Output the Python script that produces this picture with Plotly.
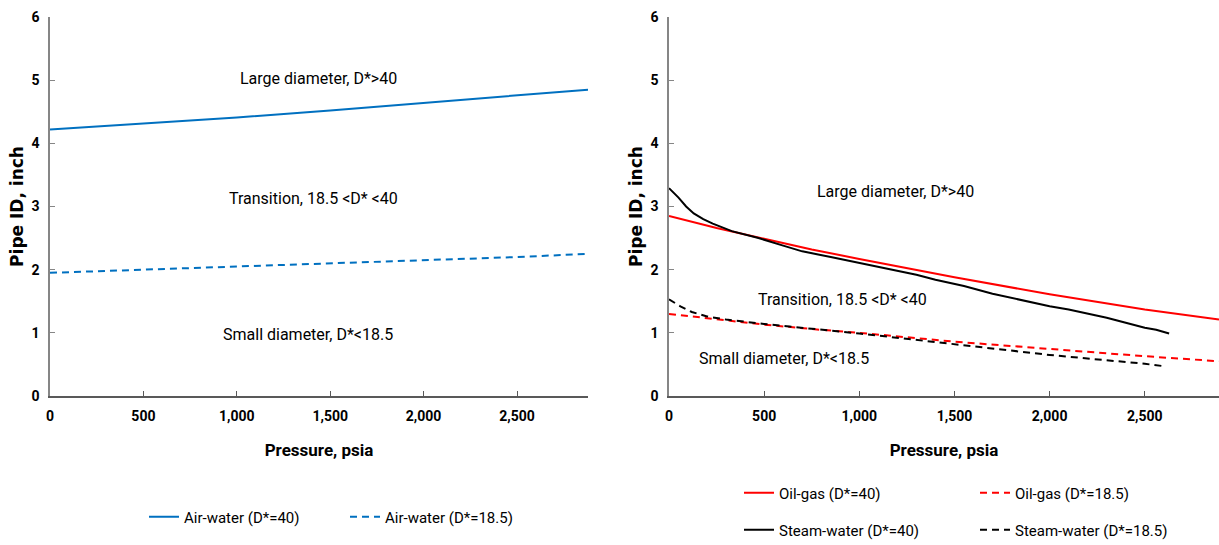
import plotly.graph_objects as go

# ---------------- data ----------------
air_pressure = [0, 500, 1000, 1500, 2000, 2500, 2880]
air_d40 = [4.22, 4.31, 4.41, 4.52, 4.64, 4.76, 4.85]
air_d185 = [1.95, 2.00, 2.04, 2.09, 2.14, 2.20, 2.25]

oil_pressure = [0, 250, 500, 750, 1000, 1500, 2000, 2500, 2890]
oil_d40 = [2.85, 2.66, 2.49, 2.32, 2.17, 1.88, 1.61, 1.37, 1.21]
oil_d185 = [1.30, 1.21, 1.13, 1.06, 1.00, 0.86, 0.74, 0.63, 0.55]

steam_pressure40 = [0, 25, 50, 90, 130, 180, 230, 330, 470, 600, 700, 850, 1000, 1100, 1200, 1300,
                    1400, 1550, 1700, 1850, 2000, 2100, 2200, 2300, 2360, 2430, 2500, 2560, 2628]
steam_d40 = [3.29, 3.22, 3.14, 3.00, 2.89, 2.80, 2.73, 2.61, 2.50, 2.38, 2.29, 2.20, 2.11, 2.05, 1.99, 1.92,
             1.84, 1.74, 1.62, 1.52, 1.42, 1.37, 1.31, 1.24, 1.19, 1.13, 1.08, 1.05, 0.99]
steam_pressure185 = [0, 60, 120, 200, 300, 500, 1000, 1500, 2000, 2500, 2605]
steam_d185 = [1.53, 1.42, 1.33, 1.26, 1.21, 1.14, 0.99, 0.82, 0.65, 0.51, 0.47]

x_ticks = [0, 500, 1000, 1500, 2000, 2500]
x_tick_labels = ["0", "500", "1,000", "1,500", "2,000", "2,500"]
y_ticks = [0, 1, 2, 3, 4, 5, 6]

region_labels = ["Large diameter, D*>40", "Transition, 18.5 <D* <40", "Small diameter, D*<18.5"]
left_label_pos = [(1435, 5.02), (1409, 3.13), (1382, 0.97)]
right_label_pos = [(1188, 3.23), (914, 1.53), (604, 0.60)]

BLUE = "#0070C0"
RED = "#FF0000"
BLACK = "#000000"
FONT = "Roboto, sans-serif"
DASH = "7px,5px"

fig = go.Figure()

fig.add_trace(go.Scatter(x=air_pressure, y=air_d40, mode="lines", name="Air-water (D*=40)",
                         line=dict(color=BLUE, width=2), xaxis="x", yaxis="y", legend="legend"))
fig.add_trace(go.Scatter(x=air_pressure, y=air_d185, mode="lines", name="Air-water (D*=18.5)",
                         line=dict(color=BLUE, width=2, dash=DASH), xaxis="x", yaxis="y", legend="legend"))

fig.add_trace(go.Scatter(x=oil_pressure, y=oil_d40, mode="lines", name="Oil-gas (D*=40)",
                         line=dict(color=RED, width=2), xaxis="x2", yaxis="y2", legend="legend2"))
fig.add_trace(go.Scatter(x=oil_pressure, y=oil_d185, mode="lines", name="Oil-gas (D*=18.5)",
                         line=dict(color=RED, width=2, dash=DASH), xaxis="x2", yaxis="y2", legend="legend2"))
fig.add_trace(go.Scatter(x=steam_pressure40, y=steam_d40, mode="lines", name="Steam-water (D*=40)",
                         line=dict(color=BLACK, width=2), xaxis="x2", yaxis="y2", legend="legend3"))
fig.add_trace(go.Scatter(x=steam_pressure185, y=steam_d185, mode="lines", name="Steam-water (D*=18.5)",
                         line=dict(color=BLACK, width=2, dash=DASH), xaxis="x2", yaxis="y2", legend="legend3"))

tick_font = dict(family=FONT, size=14, color="#000000", weight="bold")
xtitle_font = dict(family=FONT, size=17, color="#000000", weight="bold")
ytitle_font = dict(family="DejaVu Sans", size=17, color="#000000", weight="bold")

def xaxis(domain, rng, anchor):
    return dict(domain=domain, range=rng, anchor=anchor, tickvals=x_ticks, ticktext=x_tick_labels,
                ticks="inside", ticklen=5, tickcolor="#595959", showline=True, linecolor="#595959",
                linewidth=1.5, showgrid=False, zeroline=False, tickfont=tick_font,
                ticklabelstandoff=6, automargin=False,
                title=dict(text="Pressure, psia", font=xtitle_font, standoff=22))

def yaxis(domain, anchor):
    return dict(domain=domain, range=[0, 6], anchor=anchor, tickvals=y_ticks,
                ticks="inside", ticklen=5, tickcolor="#868686", showline=True, linecolor="#868686",
                linewidth=1.5, showgrid=False, zeroline=False, tickfont=tick_font,
                ticklabelstandoff=6, automargin=False,
                title=dict(text="Pipe ID, inch", font=ytitle_font, standoff=3))

ydom = [(545 - 396) / 545, (545 - 17) / 545]

legend_font = dict(family=FONT, size=15, color="#000000")

def legend(x_px, y_px, entry):
    return dict(orientation="h", xref="container", yref="container",
                x=x_px / 1219, xanchor="left", y=(545 - y_px) / 545, yanchor="middle",
                font=legend_font, entrywidth=entry, entrywidthmode="pixels",
                bgcolor="rgba(0,0,0,0)")

fig.update_layout(
    width=1219, height=545,
    margin=dict(l=0, r=0, t=0, b=0, autoexpand=False),
    paper_bgcolor="white", plot_bgcolor="white",
    xaxis=xaxis([50 / 1219, 588 / 1219], [0, 2880], "y"),
    yaxis=yaxis(ydom, "x"),
    xaxis2=xaxis([669 / 1219, 1.0], [0, 2890], "y2"),
    yaxis2=yaxis(ydom, "x2"),
    legend=legend(144, 517, 156),
    legend2=legend(739, 493, 191),
    legend3=legend(739, 530, 191),
)

ann_font = dict(family=FONT, size=16, color="#000000")
for text, (px, py) in zip(region_labels, left_label_pos):
    fig.add_annotation(x=px, y=py, xref="x", yref="y", text=text, showarrow=False, font=ann_font)
for text, (px, py) in zip(region_labels, right_label_pos):
    fig.add_annotation(x=px, y=py, xref="x2", yref="y2", text=text, showarrow=False, font=ann_font)

fig.write_html("out.html")
